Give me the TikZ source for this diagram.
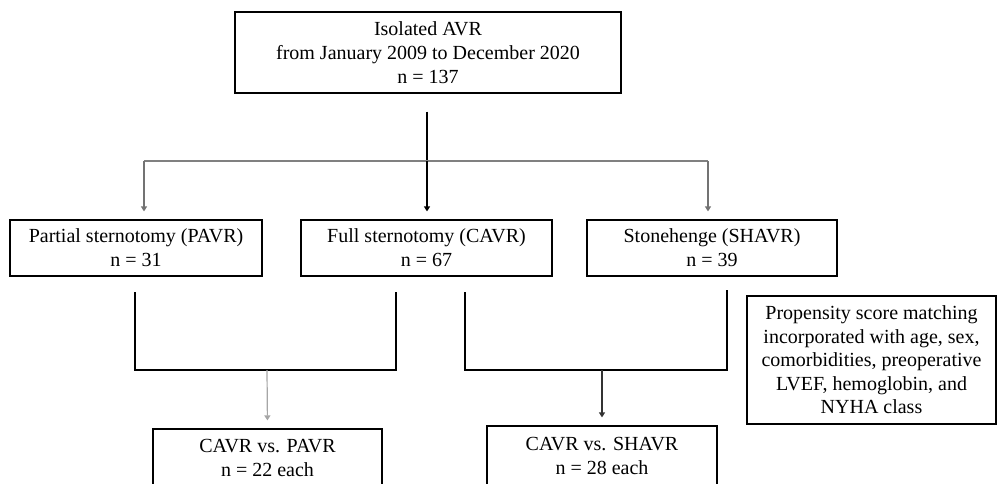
\documentclass[tikz,border=0pt]{standalone}
\usepackage{fontspec}
\setmainfont{Liberation Serif}
\usetikzlibrary{arrows.meta,positioning}
\begin{document}
\begin{tikzpicture}[x=1pt, y=-1pt]
    \tikzset{box/.style={rectangle, draw, line width=1.2pt, inner sep=0pt, align=center, font=\fontsize{20}{24}\selectfont},
             link/.style={line width=1.2pt},
             feed/.style={link, -{Triangle[width=6pt, length=5pt]}, shorten >=8pt}}
    \clip (0,0) rectangle (997,483);
    % cohort
    \node[box, minimum width=386pt, minimum height=81pt] (avr) at (428,52.5) {Isolated AVR\\from January 2009 to December 2020\\n = 137};
    % approaches
    \node[box, minimum width=252pt, minimum height=56pt] (pavr) at (136,248) {Partial sternotomy (PAVR)\\n = 31};
    \node[box, minimum width=251pt, minimum height=56pt] (cavr) at (426.5,248) {Full sternotomy (CAVR)\\n = 67};
    \node[box, minimum width=250pt, minimum height=56pt] (shavr) at (712,248) {Stonehenge (SHAVR)\\n = 39};
    % matched pairs
    \node[box, minimum width=229pt, minimum height=58pt] (cvp) at (267.5,458) {CAVR vs. PAVR\\n = 22 each};
    \node[box, minimum width=230pt, minimum height=60pt] (cvs) at (602,456) {CAVR vs. SHAVR\\n = 28 each};
    \node[box, minimum width=249pt, minimum height=128pt, font=\fontsize{20}{23.5}\selectfont] (psm) at (871.5,360) {Propensity score matching\\incorporated with age, sex,\\comorbidities, preoperative\\LVEF, hemoglobin, and\\NYHA class};

    \coordinate (split) at (427,161);
    \coordinate (lsplit) at (144,161);
    \coordinate (rsplit) at (708,161);
    \draw[link] (split |- avr.south) ++(0,18) -- (split);
    \draw[link, gray] (lsplit) -- (rsplit);
    \draw[feed, gray!90!black] (lsplit) -- (lsplit |- pavr.north);
    \draw[feed] (split) -- (split |- cavr.north);
    \draw[feed, gray!90!black] (rsplit) -- (rsplit |- shavr.north);

    % PAVR vs CAVR
    \coordinate (pjoin) at (267,370);
    \draw[link] (135,292) |- (396,370) -- (396,292);
    \draw[feed, gray!70] (pjoin) -- (cvp.north);
    % SHAVR vs CAVR
    \coordinate (sjoin) at (602,370);
    \draw[link] (465,292) |- (727,370) -- (727,290);
    \draw[feed, black!80] (sjoin) -- (cvs.north);
\end{tikzpicture}
\end{document}
